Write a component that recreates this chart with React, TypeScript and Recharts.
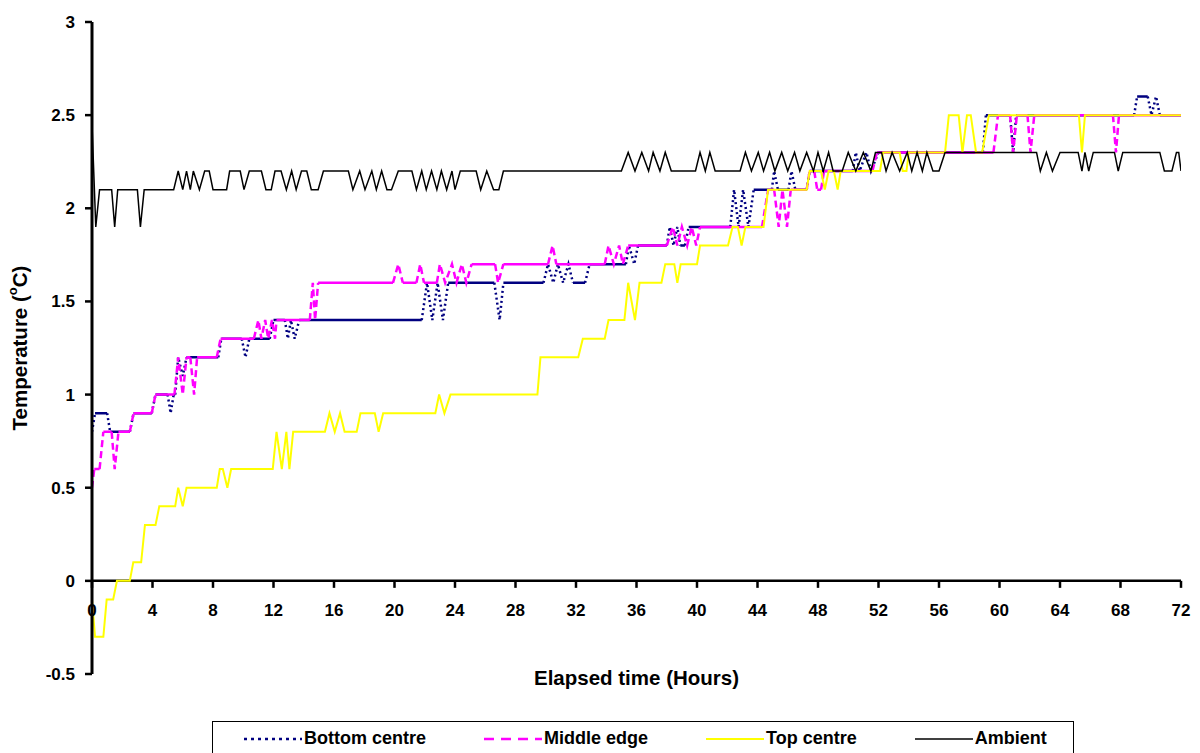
import { Legend, Line, LineChart, ReferenceLine, XAxis, YAxis } from "recharts";

type Point = [number, number];

const HOURS_TICKS = [0, 4, 8, 12, 16, 20, 24, 28, 32, 36, 40, 44, 48, 52, 56, 60, 64, 68, 72];
const TEMP_TICKS = [-0.5, 0, 0.5, 1, 1.5, 2, 2.5, 3];

// [elapsed hours, temperature °C] at each change in the logged reading
const bottomCentre: Point[] = [
  [0, 0.8], [0.2, 0.9], [1.0, 0.9], [1.2, 0.8], [2.5, 0.8], [2.75, 0.9], [3.95, 0.9], [4.2, 1.0],
  [5.0, 1.0], [5.2, 0.9], [5.4, 1.0], [5.5, 1.0], [5.7, 1.2], [6.0, 1.1], [6.25, 1.2], [8.35, 1.2],
  [8.55, 1.3], [9.9, 1.3], [10.15, 1.2], [10.4, 1.3], [11.75, 1.3], [12.0, 1.4], [12.75, 1.4],
  [12.95, 1.3], [13.15, 1.4], [13.4, 1.3], [13.7, 1.4], [21.8, 1.4], [22.15, 1.6], [22.5, 1.4],
  [22.85, 1.6], [23.2, 1.4], [23.55, 1.6], [26.6, 1.6], [26.95, 1.4], [27.2, 1.6], [29.85, 1.6],
  [30.15, 1.7], [30.5, 1.6], [30.8, 1.7], [31.15, 1.6], [31.5, 1.7], [31.8, 1.6], [32.6, 1.6],
  [32.9, 1.7], [35.3, 1.7], [35.5, 1.8], [35.85, 1.7], [36.1, 1.8], [38.0, 1.8], [38.2, 1.9],
  [38.45, 1.8], [38.7, 1.9], [38.9, 1.8], [39.2, 1.8], [39.45, 1.9], [42.2, 1.9], [42.45, 2.1],
  [42.75, 1.9], [43.05, 2.1], [43.4, 1.9], [43.75, 2.1], [44.95, 2.1], [45.1, 2.2], [45.35, 2.1],
  [46.05, 2.1], [46.25, 2.2], [46.5, 2.1], [47.25, 2.1], [47.45, 2.2], [50.3, 2.2], [50.5, 2.3],
  [50.75, 2.2], [51.2, 2.3], [51.5, 2.2], [52.0, 2.3], [58.9, 2.3], [59.1, 2.5], [60.7, 2.5],
  [60.9, 2.3], [61.1, 2.5], [68.9, 2.5], [69.1, 2.6], [69.8, 2.6], [70.05, 2.5], [70.35, 2.6],
  [70.6, 2.5], [72, 2.5],
];

const middleEdge: Point[] = [
  [0, 0.5], [0.15, 0.6], [0.5, 0.6], [0.75, 0.8], [1.3, 0.8], [1.5, 0.6], [1.75, 0.8], [2.5, 0.8],
  [2.75, 0.9], [3.95, 0.9], [4.2, 1.0], [5.45, 1.0], [5.7, 1.2], [6.0, 1.0], [6.25, 1.2], [6.5, 1.2],
  [6.75, 1.0], [6.95, 1.2], [8.25, 1.2], [8.5, 1.3], [10.7, 1.3], [11.0, 1.4], [11.2, 1.3],
  [11.45, 1.4], [11.65, 1.3], [11.9, 1.4], [12.1, 1.3], [12.2, 1.4], [14.4, 1.4], [14.6, 1.6],
  [14.75, 1.4], [14.95, 1.6], [19.9, 1.6], [20.25, 1.7], [20.55, 1.6], [21.45, 1.6], [21.7, 1.7],
  [21.95, 1.6], [22.8, 1.6], [23.0, 1.7], [23.35, 1.6], [23.8, 1.7], [24.1, 1.6], [24.45, 1.7],
  [24.75, 1.6], [25.1, 1.7], [26.65, 1.7], [26.85, 1.6], [27.2, 1.7], [30.15, 1.7], [30.45, 1.8],
  [30.7, 1.7], [33.9, 1.7], [34.15, 1.8], [34.5, 1.7], [34.85, 1.8], [35.1, 1.7], [35.45, 1.8],
  [38.0, 1.8], [38.4, 1.9], [38.7, 1.8], [39.0, 1.9], [39.35, 1.8], [39.65, 1.9], [39.95, 1.8],
  [40.2, 1.9], [44.3, 1.9], [44.7, 2.1], [45.1, 2.1], [45.4, 1.9], [45.65, 2.1], [45.95, 1.9],
  [46.2, 2.1], [47.25, 2.1], [47.45, 2.2], [47.75, 2.2], [47.95, 2.1], [48.2, 2.1], [48.4, 2.2],
  [51.6, 2.2], [51.9, 2.3], [59.6, 2.3], [59.9, 2.5], [60.7, 2.5], [60.9, 2.3], [61.15, 2.5],
  [61.85, 2.5], [62.05, 2.3], [62.3, 2.5], [67.5, 2.5], [67.7, 2.3], [67.9, 2.5], [72, 2.5],
];

const topCentre: Point[] = [
  [0, -0.1], [0.2, -0.3], [0.75, -0.3], [0.97, -0.1], [1.4, -0.1], [1.65, 0], [2.5, 0], [2.73, 0.1],
  [3.25, 0.1], [3.5, 0.3], [4.2, 0.3], [4.45, 0.4], [5.5, 0.4], [5.7, 0.5], [6.0, 0.4], [6.25, 0.5],
  [8.25, 0.5], [8.45, 0.6], [8.65, 0.6], [8.95, 0.5], [9.2, 0.6], [11.95, 0.6], [12.2, 0.8],
  [12.55, 0.6], [12.85, 0.8], [13.05, 0.6], [13.3, 0.8], [15.4, 0.8], [15.7, 0.9], [16.05, 0.8],
  [16.4, 0.9], [16.7, 0.8], [17.5, 0.8], [17.75, 0.9], [18.7, 0.9], [18.95, 0.8], [19.25, 0.9],
  [22.7, 0.9], [22.95, 1.0], [23.3, 0.9], [23.7, 1.0], [29.45, 1.0], [29.65, 1.2], [32.15, 1.2],
  [32.45, 1.3], [33.9, 1.3], [34.15, 1.4], [35.2, 1.4], [35.45, 1.6], [35.9, 1.4], [36.2, 1.6],
  [37.65, 1.6], [37.9, 1.7], [38.5, 1.7], [38.7, 1.6], [38.92, 1.7], [40.0, 1.7], [40.2, 1.8],
  [42.05, 1.8], [42.35, 1.9], [42.7, 1.9], [42.95, 1.8], [43.2, 1.9], [44.4, 1.9], [44.7, 2.1],
  [47.25, 2.1], [47.45, 2.2], [48.2, 2.2], [48.45, 2.1], [48.7, 2.2], [49.05, 2.2], [49.3, 2.1],
  [49.5, 2.2], [52.1, 2.2], [52.3, 2.3], [53.4, 2.3], [53.6, 2.2], [53.85, 2.2], [54.0, 2.3],
  [56.4, 2.3], [56.65, 2.5], [57.3, 2.5], [57.55, 2.3], [57.85, 2.5], [58.1, 2.5], [58.45, 2.3],
  [58.85, 2.3], [59.3, 2.5], [65.25, 2.5], [65.45, 2.3], [65.65, 2.5], [72, 2.5],
];

const ambient: Point[] = [
  [0, 2.45], [0.25, 1.9], [0.5, 2.1], [1.3, 2.1], [1.5, 1.9], [1.7, 2.1], [3.0, 2.1], [3.2, 1.9],
  [3.45, 2.1], [5.4, 2.1], [5.7, 2.2], [6.0, 2.1], [6.25, 2.2], [6.5, 2.1], [6.7, 2.2], [7.1, 2.1],
  [7.45, 2.2], [7.75, 2.2], [8.0, 2.1], [8.9, 2.1], [9.1, 2.2], [9.8, 2.2], [10.05, 2.1],
  [10.4, 2.2], [11.2, 2.2], [11.5, 2.1], [11.85, 2.1], [12.1, 2.2], [12.5, 2.2], [12.85, 2.1],
  [13.2, 2.2], [13.5, 2.1], [13.85, 2.2], [14.2, 2.2], [14.5, 2.1], [14.95, 2.1], [15.3, 2.2],
  [16.95, 2.2], [17.25, 2.1], [17.7, 2.2], [18.05, 2.1], [18.5, 2.2], [18.8, 2.1], [19.15, 2.2],
  [19.5, 2.1], [19.8, 2.1], [20.25, 2.2], [21.15, 2.2], [21.45, 2.1], [21.8, 2.2], [22.1, 2.1],
  [22.45, 2.2], [22.8, 2.1], [23.1, 2.2], [23.45, 2.1], [23.8, 2.2], [24.0, 2.1], [24.35, 2.2],
  [25.4, 2.2], [25.7, 2.1], [26.1, 2.2], [26.55, 2.1], [26.9, 2.1], [27.2, 2.2], [35.0, 2.2],
  [35.45, 2.3], [35.9, 2.2], [36.35, 2.3], [36.8, 2.2], [37.1, 2.3], [37.55, 2.2], [37.9, 2.3],
  [38.3, 2.2], [39.9, 2.2], [40.2, 2.3], [40.55, 2.2], [40.85, 2.3], [41.2, 2.2], [42.85, 2.2],
  [43.2, 2.3], [43.6, 2.2], [44.05, 2.3], [44.4, 2.2], [44.8, 2.3], [45.15, 2.2], [45.6, 2.3],
  [46.0, 2.2], [46.45, 2.3], [46.8, 2.2], [47.25, 2.3], [47.7, 2.2], [48.0, 2.3], [48.35, 2.2],
  [48.7, 2.3], [49.0, 2.2], [49.6, 2.2], [50.0, 2.3], [50.5, 2.2], [51.0, 2.3], [51.5, 2.2],
  [51.8, 2.3], [52.2, 2.3], [52.5, 2.2], [52.9, 2.3], [53.4, 2.2], [53.9, 2.3], [54.2, 2.2],
  [54.55, 2.3], [54.9, 2.2], [55.2, 2.3], [55.6, 2.2], [56.0, 2.2], [56.4, 2.3], [62.45, 2.3],
  [62.7, 2.2], [63.1, 2.3], [63.5, 2.2], [64.0, 2.3], [65.2, 2.3], [65.45, 2.2], [65.65, 2.3],
  [65.9, 2.2], [66.2, 2.3], [67.6, 2.3], [67.85, 2.2], [68.15, 2.3], [70.6, 2.3], [70.9, 2.2],
  [71.4, 2.2], [71.7, 2.3], [71.85, 2.3], [72, 2.2],
];

const FONT = "'Liberation Sans', Arial, sans-serif";
const WIDTH = 1200;
const HEIGHT = 753;
const MARGIN = { top: 22, right: 19, bottom: 49, left: 32 };
const X_AXIS_H = 30;
const Y_MIN = -0.5;
const Y_MAX = 3;
const PLOT_H = HEIGHT - MARGIN.top - MARGIN.bottom - X_AXIS_H;
// the hours axis sits on the 0 °C line rather than at the bottom of the plot
const ZERO_Y = MARGIN.top + (PLOT_H * Y_MAX) / (Y_MAX - Y_MIN);

interface Series {
  name: string;
  points: Point[];
  color: string;
  width: number;
  dash?: string;
  legendDash?: string;
}

const SERIES: Series[] = [
  { name: "Bottom centre", points: bottomCentre, color: "#000080", width: 2.5, dash: "2 3", legendDash: "3 4" },
  { name: "Middle edge", points: middleEdge, color: "#FF00FF", width: 2.5, dash: "7 4", legendDash: "10 7" },
  { name: "Top centre", points: topCentre, color: "#FFFF00", width: 2 },
  { name: "Ambient", points: ambient, color: "#000000", width: 1.5 },
];

type Row = { t: number; v: number | null };

const toRows = (pts: Point[]): Row[] => pts.map(([t, v]) => ({ t, v }));

// Excel draws dotted/dashed series as many short segments, so level runs look solid
// and only the steps show the dash pattern. Split each series into those two parts.
function splitRuns(pts: Point[], level: boolean): Row[] {
  const out: Row[] = [];
  let open = false;
  for (let i = 0; i < pts.length - 1; i++) {
    const [t0, v0] = pts[i];
    const [t1, v1] = pts[i + 1];
    if ((v0 === v1) === level) {
      if (!open) out.push({ t: t0, v: v0 });
      out.push({ t: t1, v: v1 });
      open = true;
    } else if (open) {
      out.push({ t: t0, v: null });
      open = false;
    }
  }
  return out;
}

const HourTick = (props: any) => {
  const { x, payload } = props;
  return (
    <g>
      <line x1={x} x2={x} y1={ZERO_Y} y2={ZERO_Y + 7} stroke="#000" strokeWidth={2.5} />
      <text x={x} y={ZERO_Y + 35} textAnchor="middle" fontFamily={FONT} fontWeight="bold" fontSize={17} fill="#000">
        {payload.value}
      </text>
    </g>
  );
};

const XTitle = (props: any) => {
  const { viewBox } = props;
  return (
    <text
      x={viewBox.x + viewBox.width / 2}
      y={viewBox.y + 3}
      textAnchor="middle"
      dominantBaseline="central"
      fontFamily={FONT}
      fontWeight="bold"
      fontSize={20.5}
      fill="#000"
    >
      Elapsed time (Hours)
    </text>
  );
};

const YTitle = (props: any) => {
  const { viewBox } = props;
  const cx = viewBox.x - 13;
  const cy = viewBox.y + viewBox.height / 2;
  return (
    <text
      x={cx}
      y={cy}
      transform={`rotate(-90 ${cx} ${cy})`}
      textAnchor="middle"
      dominantBaseline="central"
      fontFamily={FONT}
      fontWeight="bold"
      fontSize={20.5}
      fill="#000"
    >
      <tspan>Temperature (</tspan>
      <tspan fontSize={13} dy={-7}>o</tspan>
      <tspan dy={7}>C)</tspan>
    </text>
  );
};

const ChartLegend = () => (
  <div
    style={{
      boxSizing: "border-box",
      width: 862,
      height: 40,
      border: "1px solid #000",
      background: "#fff",
      display: "flex",
      alignItems: "flex-start",
      paddingLeft: 31,
      paddingTop: 6,
      gap: 58,
      fontFamily: FONT,
      fontWeight: "bold",
      fontSize: 18,
      color: "#000",
    }}
  >
    {SERIES.map((s) => (
      <div key={s.name} style={{ display: "flex", alignItems: "center", whiteSpace: "nowrap" }}>
        <svg width={58} height={10} style={{ display: "block" }}>
          <line x1={0} x2={58} y1={5} y2={5} stroke={s.color} strokeWidth={s.width} strokeDasharray={s.legendDash} />
        </svg>
        <span style={{ marginLeft: 2 }}>{s.name}</span>
      </div>
    ))}
  </div>
);

export default function App() {
  const lines: JSX.Element[] = [];
  SERIES.forEach((s) => {
    if (s.dash) {
      lines.push(
        <Line
          key={`${s.name}-level`}
          name={s.name}
          data={splitRuns(s.points, true)}
          dataKey="v"
          type="linear"
          stroke={s.color}
          strokeWidth={s.width}
          dot={false}
          activeDot={false}
          isAnimationActive={false}
        />,
        <Line
          key={`${s.name}-step`}
          name={`${s.name} steps`}
          data={splitRuns(s.points, false)}
          dataKey="v"
          type="linear"
          stroke={s.color}
          strokeWidth={s.width}
          strokeDasharray={s.dash}
          dot={false}
          activeDot={false}
          isAnimationActive={false}
          legendType="none"
        />
      );
    } else {
      lines.push(
        <Line
          key={s.name}
          name={s.name}
          data={toRows(s.points)}
          dataKey="v"
          type="linear"
          stroke={s.color}
          strokeWidth={s.width}
          dot={false}
          activeDot={false}
          isAnimationActive={false}
        />
      );
    }
  });

  return (
    <div style={{ position: "absolute", left: 0, top: 0, width: WIDTH, height: HEIGHT, overflow: "hidden", background: "#fff" }}>
      <LineChart width={WIDTH} height={HEIGHT} margin={MARGIN}>
        <XAxis
          type="number"
          dataKey="t"
          domain={[0, 72]}
          ticks={HOURS_TICKS}
          interval={0}
          allowDataOverflow
          axisLine={false}
          tickLine={false}
          tick={<HourTick />}
          height={X_AXIS_H}
          label={{ content: (p: any) => <XTitle {...p} /> }}
        />
        <YAxis
          type="number"
          domain={[Y_MIN, Y_MAX]}
          ticks={TEMP_TICKS}
          interval={0}
          allowDataOverflow
          width={60}
          axisLine={{ stroke: "#000", strokeWidth: 3 }}
          tickLine={{ stroke: "#000", strokeWidth: 2.5 }}
          tickSize={7}
          tickMargin={10}
          tick={{ fontFamily: FONT, fontWeight: "bold", fontSize: 17, fill: "#000" }}
          label={{ content: (p: any) => <YTitle {...p} /> }}
        />
        <ReferenceLine y={0} stroke="#000" strokeWidth={2.5} ifOverflow="visible" />
        {lines}
        <Legend
          layout="horizontal"
          verticalAlign="middle"
          align="center"
          content={() => <ChartLegend />}
          wrapperStyle={{ top: 721, left: 212, width: 862, height: 40 }}
        />
      </LineChart>
    </div>
  );
}
